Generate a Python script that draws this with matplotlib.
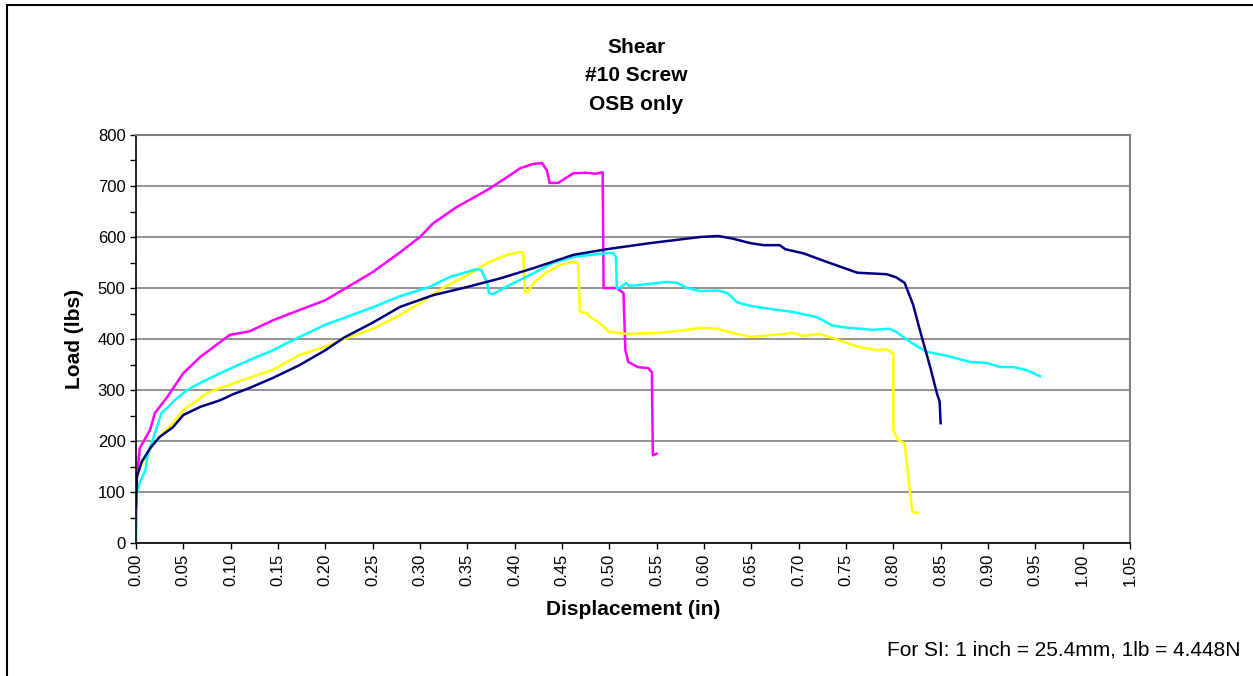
import matplotlib.pyplot as plt
from matplotlib.patches import Rectangle
from matplotlib.ticker import MultipleLocator

plt.rcParams['font.family'] = ['Liberation Sans', 'DejaVu Sans']

# ---- data ----
x_magenta = [0, 0, 0.004, 0.015, 0.020, 0.033, 0.050, 0.068, 0.089, 0.099, 0.12, 0.145,
             0.173, 0.20, 0.25, 0.279, 0.30, 0.314, 0.339, 0.371, 0.395, 0.406, 0.419,
             0.429, 0.434, 0.437, 0.446, 0.462, 0.476, 0.485, 0.493, 0.494, 0.508, 0.515,
             0.517, 0.520, 0.530, 0.541, 0.545, 0.546, 0.550]
y_magenta = [45, 110, 186, 222, 255, 286, 333, 365, 394, 408, 415, 437,
             457, 476, 531, 570, 600, 627, 659, 692, 721, 735, 743,
             745, 731, 706, 706, 725, 726, 724, 727, 500, 500, 490,
             378, 355, 345, 343, 335, 172, 175]

x_navy = [0, 0.001, 0.006, 0.015, 0.025, 0.039, 0.050, 0.068, 0.089, 0.103, 0.12, 0.145,
          0.173, 0.20, 0.22, 0.25, 0.279, 0.314, 0.35, 0.385, 0.42, 0.462, 0.497, 0.543,
          0.596, 0.615, 0.63, 0.649, 0.663, 0.680, 0.686, 0.705, 0.73, 0.762, 0.793,
          0.803, 0.812, 0.821, 0.828, 0.839, 0.846, 0.849, 0.850]
y_navy = [70, 130, 159, 186, 208, 227, 251, 267, 280, 292, 304, 324,
          349, 378, 403, 432, 463, 486, 502, 519, 539, 565, 576, 588,
          600, 602, 597, 588, 584, 584, 576, 568, 551, 530, 527,
          521, 510, 467, 418, 345, 294, 277, 235]

x_cyan = [0, 0.001, 0.004, 0.01, 0.012, 0.017, 0.027, 0.033, 0.041, 0.054, 0.068, 0.089,
          0.12, 0.145, 0.155, 0.173, 0.20, 0.25, 0.279, 0.31, 0.332, 0.36, 0.365, 0.371,
          0.373, 0.377, 0.395, 0.42, 0.44, 0.462, 0.49, 0.504, 0.507, 0.508, 0.511,
          0.518, 0.521, 0.532, 0.561, 0.572, 0.582, 0.596, 0.615, 0.625, 0.635, 0.649,
          0.670, 0.694, 0.719, 0.735, 0.747, 0.778, 0.796, 0.803, 0.818, 0.835, 0.857,
          0.881, 0.899, 0.913, 0.927, 0.941, 0.955]
y_cyan = [0, 98, 118, 143, 169, 198, 255, 265, 280, 300, 314, 333,
          359, 378, 388, 404, 428, 462, 484, 502, 522, 537, 535, 510,
          490, 488, 506, 529, 549, 561, 567, 569, 561, 500, 500,
          510, 504, 506, 512, 510, 500, 494, 495, 490, 472, 465,
          459, 453, 443, 427, 423, 418, 420, 414, 394, 375, 367,
          355, 353, 345, 345, 339, 327]

x_yellow = [0, 0.004, 0.012, 0.018, 0.029, 0.039, 0.050, 0.068, 0.075, 0.089, 0.12, 0.145,
            0.173, 0.20, 0.22, 0.25, 0.279, 0.30, 0.324, 0.35, 0.371, 0.392, 0.406, 0.409,
            0.411, 0.414, 0.42, 0.434, 0.448, 0.462, 0.467, 0.469, 0.476, 0.48, 0.49,
            0.50, 0.519, 0.553, 0.582, 0.596, 0.615, 0.63, 0.649, 0.684, 0.694, 0.705,
            0.722, 0.736, 0.754, 0.765, 0.783, 0.793, 0.80, 0.80, 0.805, 0.812, 0.82, 0.826]
y_yellow = [127, 147, 173, 192, 216, 235, 261, 284, 294, 304, 324, 340,
            369, 385, 400, 420, 447, 470, 500, 525, 549, 565, 571, 569,
            492, 492, 510, 531, 545, 551, 549, 453, 451, 443, 431,
            414, 410, 412, 418, 422, 420, 412, 404, 410, 412, 406,
            410, 402, 390, 384, 378, 380, 372, 222, 202, 196, 61, 59]

x_ticks = [i * 0.05 for i in range(22)]

fig = plt.figure(figsize=(12.53, 6.76), dpi=100)
fig.patches.append(Rectangle((0.0056, -0.05), 1.2, 1.043, transform=fig.transFigure,
                             fill=False, edgecolor='black', linewidth=1.5))

ax = fig.add_axes([0.1085, 0.1967, 0.7933, 0.6036])
ax.plot(x_magenta, y_magenta, color='#ff00ff', lw=1.8)
ax.plot(x_yellow, y_yellow, color='#ffff00', lw=1.8)
ax.plot(x_cyan, y_cyan, color='#00ffff', lw=1.8)
ax.plot(x_navy, y_navy, color='#000080', lw=1.8)

ax.set_xlim(0, 1.05)
ax.set_ylim(0, 800)
ax.set_xticks(x_ticks)
ax.set_xticklabels([f'{v:.2f}' for v in x_ticks], rotation=90)
ax.yaxis.set_major_locator(MultipleLocator(100))
ax.yaxis.set_minor_locator(MultipleLocator(50))
ax.tick_params(axis='both', direction='out', length=4, width=1, labelsize=12)
ax.tick_params(axis='y', which='minor', direction='out', length=4, width=1)
ax.grid(axis='y', color='#808080', linewidth=1.2)
ax.set_axisbelow(True)
for s in ['top', 'right']:
    ax.spines[s].set_color('#808080')
    ax.spines[s].set_linewidth(1.5)
for s in ['left', 'bottom']:
    ax.spines[s].set_color('black')
    ax.spines[s].set_linewidth(1.2)

ax.set_xlabel('Displacement (in)', fontsize=15, fontweight='bold', labelpad=10)
ax.set_ylabel('Load (lbs)', fontsize=15, fontweight='bold', labelpad=10)

fig.text(0.508, 0.93, 'Shear', ha='center', va='center', fontsize=15, fontweight='bold')
fig.text(0.508, 0.888, '#10 Screw', ha='center', va='center', fontsize=15, fontweight='bold')
fig.text(0.508, 0.846, 'OSB only', ha='center', va='center', fontsize=15, fontweight='bold')
fig.text(0.99, 0.038, 'For SI: 1 inch = 25.4mm, 1lb = 4.448N', ha='right', va='center', fontsize=15)

fig.savefig('out.png', dpi=100)
